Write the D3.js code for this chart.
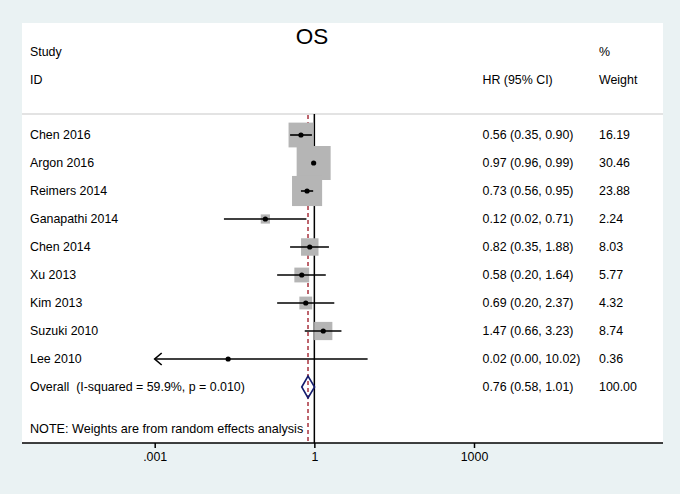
<!DOCTYPE html>
<html><head><meta charset="utf-8">
<script src="https://cdn.jsdelivr.net/npm/d3@7/dist/d3.min.js"></script>
<style>
html,body{margin:0;padding:0;background:#eaf2f3;}
svg text{font-family:"Liberation Sans",Arial,sans-serif;fill:#000;}
</style></head>
<body>
<svg id="c" width="680" height="494"></svg>
<script>
const studies = ["Chen 2016","Argon 2016","Reimers 2014","Ganapathi 2014","Chen 2014","Xu 2013","Kim 2013","Suzuki 2010","Lee 2010"];
const hr      = [0.56, 0.97, 0.73, 0.12, 0.82, 0.58, 0.69, 1.47, 0.024];
const lower   = [0.35, 0.96, 0.56, 0.02, 0.35, 0.20, 0.20, 0.66, 0];
const upper   = [0.90, 0.99, 0.95, 0.71, 1.88, 1.64, 2.37, 3.23, 10.02];
const weights = [16.19, 30.46, 23.88, 2.24, 8.03, 5.77, 4.32, 8.74, 0.36];
const hrLabels = ["0.56 (0.35, 0.90)","0.97 (0.96, 0.99)","0.73 (0.56, 0.95)","0.12 (0.02, 0.71)","0.82 (0.35, 1.88)","0.58 (0.20, 1.64)","0.69 (0.20, 2.37)","1.47 (0.66, 3.23)","0.02 (0.00, 10.02)"];
const weightLabels = ["16.19","30.46","23.88","2.24","8.03","5.77","4.32","8.74","0.36"];
const overall = {label:"Overall  (I-squared = 59.9%, p = 0.010)", hr:0.76, lo:0.58, hi:1.01, text:"0.76 (0.58, 1.01)", weight:"100.00"};
const tickValues = [0.001, 1, 1000];
const tickLabels = [".001", "1", "1000"];
const noteText = "NOTE: Weights are from random effects analysis";
const title = "OS";

const svg = d3.select("#c");
const panel = {x0:22, x1:663, y0:23, y1:443};
const fs = 12.4;

// white plot region
svg.append("rect").attr("x",panel.x0).attr("y",panel.y0)
  .attr("width",panel.x1-panel.x0).attr("height",panel.y1-panel.y0).attr("fill","#fff");

const x = d3.scaleLog().domain([0.001, 1000]).range([154.7, 474]);
const rowIdx = d3.range(studies.length + 1);
const y = d3.scalePoint().domain(rowIdx).range([135, 387]);
const side = d3.scaleSqrt().domain([0, 30.46]).range([0, 34]);

// title & headers
svg.append("text").attr("x",312).attr("y",44).attr("text-anchor","middle")
  .style("font-size","22.5px").text(title);
const hdr = [["Study",30,56],["ID",30,84],["HR (95% CI)",482.5,84],["%",599,56],["Weight",599,84]];
svg.selectAll("text.hdr").data(hdr).enter().append("text").attr("class","hdr")
  .attr("x",d=>d[1]).attr("y",d=>d[2]).style("font-size",fs+"px").text(d=>d[0]);

// header separator
svg.append("line").attr("x1",panel.x0).attr("x2",panel.x1).attr("y1",114).attr("y2",114)
  .attr("stroke","#c8c8c8").attr("stroke-width",1.2);

// reference lines
svg.append("line").attr("x1",x(1)).attr("x2",x(1)).attr("y1",114).attr("y2",panel.y1)
  .attr("stroke","#000").attr("stroke-width",1.5);
svg.append("line").attr("x1",x(overall.hr)).attr("x2",x(overall.hr)).attr("y1",115).attr("y2",panel.y1)
  .attr("stroke","#a8323e").attr("stroke-width",1.5).attr("stroke-dasharray","4,3");

const data = studies.map((s,i)=>({s,i,hr:hr[i],lo:lower[i],hi:upper[i],w:weights[i]}));
const xmin = x.domain()[0];

// boxes
svg.selectAll("rect.box").data(data).enter().append("rect").attr("class","box")
  .attr("x",d=>x(d.hr)-side(d.w)/2).attr("y",d=>y(d.i)-side(d.w)/2)
  .attr("width",d=>side(d.w)).attr("height",d=>side(d.w))
  .attr("fill","#b5b5b5");

// CI lines
svg.selectAll("line.ci").data(data).enter().append("line").attr("class","ci")
  .attr("x1",d=>x(Math.max(d.lo,xmin))).attr("x2",d=>x(d.hi))
  .attr("y1",d=>y(d.i)).attr("y2",d=>y(d.i))
  .attr("stroke","#000").attr("stroke-width",1.6);

// arrows for truncated CIs
svg.selectAll("path.arrow").data(data.filter(d=>d.lo<xmin)).enter().append("path").attr("class","arrow")
  .attr("d",d=>{const ax=x(xmin), ay=y(d.i); return `M${ax+7},${ay-6}L${ax},${ay}L${ax+7},${ay+6}`;})
  .attr("fill","none").attr("stroke","#000").attr("stroke-width",1.6);

// points
svg.selectAll("circle.pt").data(data).enter().append("circle").attr("class","pt")
  .attr("cx",d=>x(d.hr)).attr("cy",d=>y(d.i)).attr("r",2.6).attr("fill","#000");

// overall diamond
const oy = y(studies.length);
svg.append("path")
  .attr("d",`M${x(overall.lo)},${oy}L${x(overall.hr)},${oy-11}L${x(overall.hi)},${oy}L${x(overall.hr)},${oy+11}Z`)
  .attr("fill","none").attr("stroke","#141c6e").attr("stroke-width",1.6);

// text columns
const rowsTxt = data.map(d=>({lab:d.s,hrt:hrLabels[d.i],wt:weightLabels[d.i],i:d.i}));
rowsTxt.push({lab:overall.label,hrt:overall.text,wt:overall.weight,i:studies.length});
const g = svg.append("g").style("font-size",fs+"px");
g.selectAll("text.lab").data(rowsTxt).enter().append("text").attr("class","lab")
  .attr("x",30).attr("y",d=>y(d.i)+4.4).attr("xml:space","preserve").style("white-space","pre").text(d=>d.lab);
g.selectAll("text.hrt").data(rowsTxt).enter().append("text").attr("class","hrt")
  .attr("x",482.5).attr("y",d=>y(d.i)+4.4).text(d=>d.hrt);
g.selectAll("text.wt").data(rowsTxt).enter().append("text").attr("class","wt")
  .attr("x",599).attr("y",d=>y(d.i)+4.4).text(d=>d.wt);

// note
svg.append("text").attr("x",30).attr("y",432.5).style("font-size","12.6px").text(noteText);

// axis
svg.append("line").attr("x1",panel.x0).attr("x2",panel.x1).attr("y1",panel.y1).attr("y2",panel.y1)
  .attr("stroke","#000").attr("stroke-width",1.5);
const axis = d3.axisBottom(x).tickValues(tickValues).tickFormat((d,i)=>tickLabels[i]).tickSize(5).tickSizeOuter(0);
const ag = svg.append("g").attr("transform",`translate(0,${panel.y1})`).call(axis);
ag.select(".domain").remove();
ag.selectAll(".tick line").attr("stroke","#000").attr("stroke-width",1.5);
ag.selectAll(".tick text").attr("dy",0).attr("y",17.5).style("font-size",fs+"px")
  .style("font-family","'Liberation Sans',Arial,sans-serif").attr("fill","#000");
</script>
</body></html>
